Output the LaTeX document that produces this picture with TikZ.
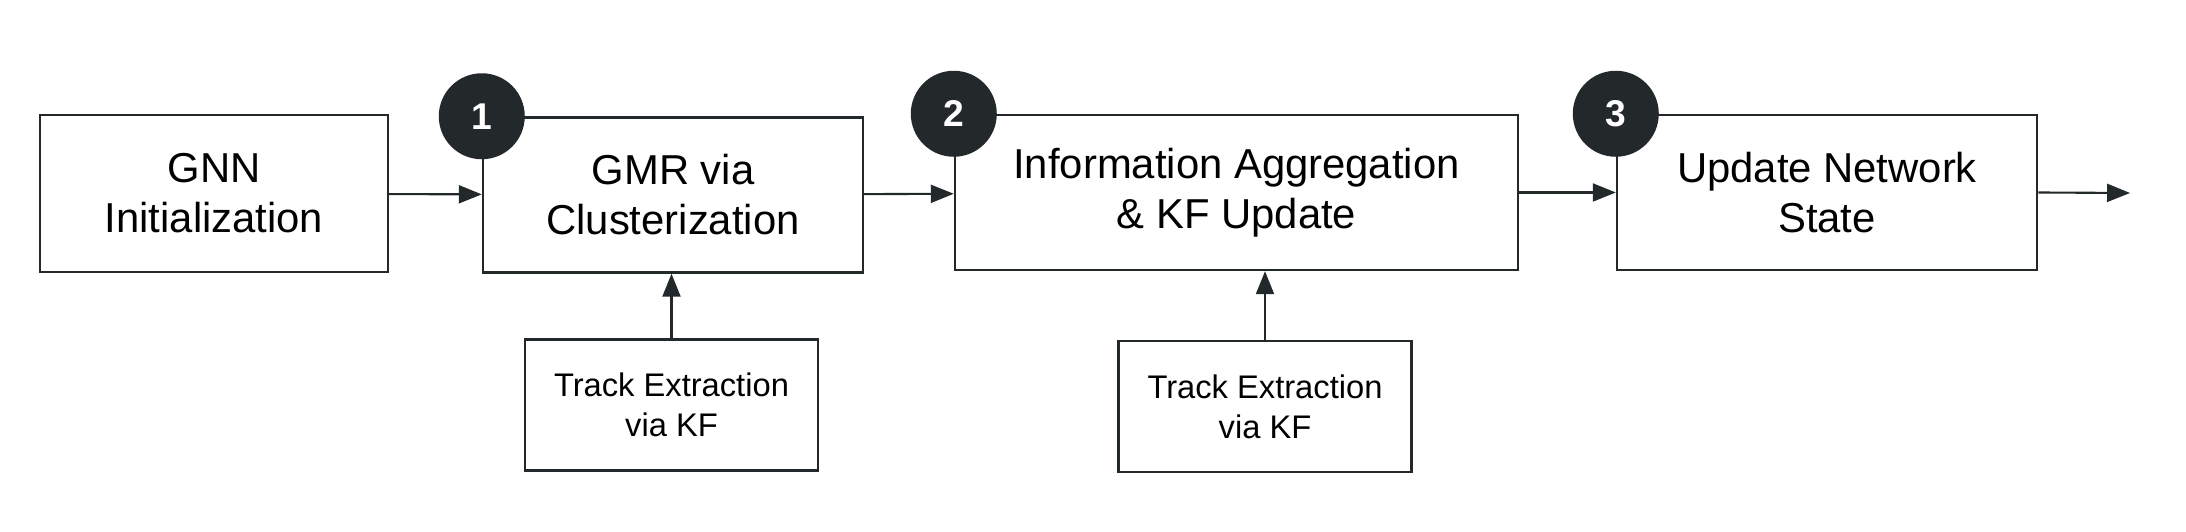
\documentclass[tikz,border=0pt]{standalone}
\usepackage{fontspec}
\setmainfont{Liberation Sans}
\usetikzlibrary{arrows.meta}

\definecolor{inkgray}{HTML}{23282A}

\begin{document}
\begin{tikzpicture}[
    stage/.style={draw=inkgray,line width=0.7pt,align=center,inner sep=0pt,
      font=\fontsize{11.9}{14.2}\selectfont},
    aux/.style={draw=inkgray,line width=0.7pt,align=center,inner sep=0pt,
      minimum width=2.93cm,minimum height=1.31cm,
      font=\fontsize{9.3}{11.4}\selectfont},
    badge/.style={circle,fill=inkgray,text=white,inner sep=0pt,
      minimum size=0.86cm,font=\fontsize{10.6}{12}\selectfont\bfseries},
    flow/.style={draw=inkgray,line width=0.6pt,-{Triangle[length=2.3mm,width=1.8mm]}}
  ]
  \useasboundingbox (0,0) rectangle (21.86,-5.32);

  \begin{scope}
    \node[stage,minimum width=3.48cm,minimum height=1.57cm] (gnn) at (2.14,-1.935) {GNN\\Initialization};
    \node[stage,minimum width=3.80cm,minimum height=1.55cm] (gmr) at (6.73,-1.95) {GMR via\\Clusterization};
    \node[stage,minimum width=5.63cm,minimum height=1.55cm] (info) at (12.365,-1.925) {Information Aggregation\\\& KF Update};
    \node[stage,minimum width=4.20cm,minimum height=1.55cm] (upd) at (18.27,-1.925) {Update Network\\State};
    \node[aux] (track1) at (6.715,-4.05) {Track Extraction\\via KF};
    \node[aux] (track2) at (12.65,-4.065) {Track Extraction\\via KF};
    \coordinate (out) at (21.30,-1.93);
  \end{scope}

  \begin{scope}
    \node[badge] (b1) at (gmr.north west) {1};
    \node[badge] (b2) at (info.north west) {2};
    \node[badge] (b3) at (upd.north west) {3};
  \end{scope}

  \begin{scope}[every edge/.style={flow}]
    \path (gnn) edge (gmr);
    \path (gmr) edge (info);
    \path (info) edge (upd);
    \path (upd.east) edge (out);
    \path (track1.north) edge (track1.north |- gmr.south);
    \path (track2.north) edge (track2.north |- info.south);
  \end{scope}
\end{tikzpicture}
\end{document}
